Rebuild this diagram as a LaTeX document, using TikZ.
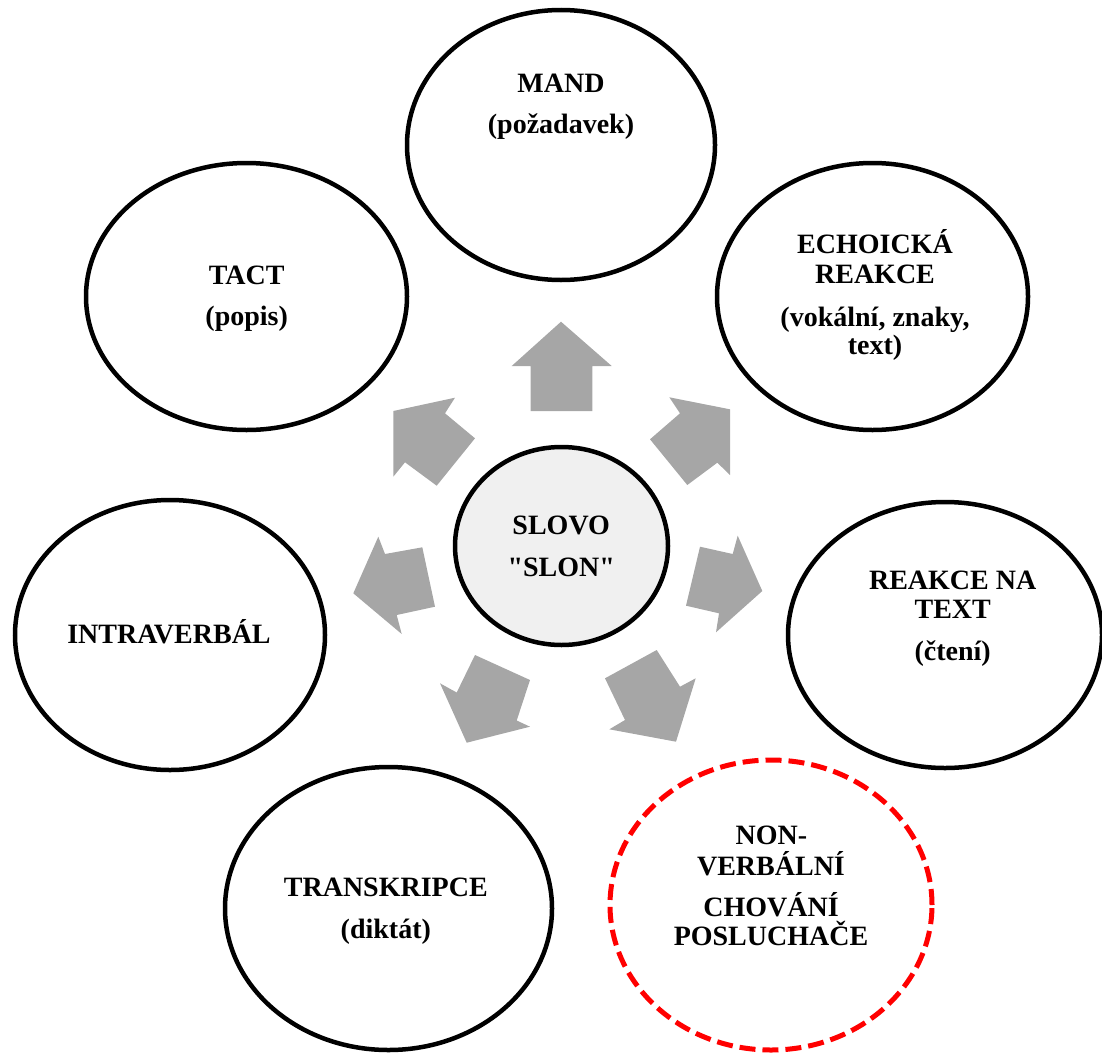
\documentclass[tikz,border=0pt]{standalone}
\usepackage{fontspec}
\setmainfont{Liberation Serif}[Ligatures=TeXOff]
\usetikzlibrary{shapes.geometric}
\definecolor{arrowgray}{HTML}{A6A6A6}
\definecolor{centerfill}{HTML}{F0F0F0}
\definecolor{dashred}{HTML}{FF0000}
\tikzset{
  bubble/.style={ellipse, draw=black, line width=4.5pt, inner sep=0pt, fill=white},
  dashbubble/.style={ellipse, draw=dashred, line width=5pt, dash pattern=on 16pt off 7pt, inner sep=0pt},
  centerbubble/.style={ellipse, draw=black, line width=4.5pt, inner sep=0pt, fill=centerfill},
  lbl/.style={anchor=base, inner sep=0pt, font=\fontsize{28}{30}\selectfont\bfseries},
  blockarrow/.style={fill=arrowgray, draw=none}
}
\begin{document}
\begin{tikzpicture}[x=1pt,y=-1pt]
\useasboundingbox (0,0) rectangle (1102,1052);

% outer bubbles
\node[bubble, minimum width=308pt, minimum height=270pt] (mand) at (561,145) {};
\node[bubble, minimum width=311pt, minimum height=267pt] (echo) at (872.5,296.5) {};
\node[bubble, minimum width=321pt, minimum height=267pt] (tact) at (246.5,296.5) {};
\node[bubble, minimum width=310pt, minimum height=270pt] (intra) at (170,635) {};
\node[bubble, minimum width=314pt, minimum height=266pt] (reakce) at (945,635) {};
\node[bubble, minimum width=327pt, minimum height=283pt] (trans) at (388.5,908.5) {};
\node[dashbubble, minimum width=322pt, minimum height=290pt] (nonv) at (771,905) {};

% center
\node[centerbubble, minimum width=213pt, minimum height=198pt] (slovo) at (561.5,546) {};

% labels
\node[lbl] (mandA) at (561,92.7) {MAND};
\node[lbl] (mandB) at (561,133) {(požadavek)};

\node[lbl] (echoA) at (875,253.3) {ECHOICKÁ};
\node[lbl] (echoB) at (875,283.3) {REAKCE};
\node[lbl] (echoC) at (875,326.7) {(vokální, znaky,};
\node[lbl] (echoD) at (875,354) {text)};

\node[lbl] (tactA) at (246.7,284.3) {TACT};
\node[lbl] (tactB) at (246.7,325) {(popis)};

\node[lbl] (intraA) at (169,643.3) {INTRAVERBÁL};

\node[lbl] (reakceA) at (952.7,589.3) {REAKCE NA};
\node[lbl] (reakceB) at (952.7,618.3) {TEXT};
\node[lbl] (reakceC) at (952.7,660) {(čtení)};

\node[lbl] (transA) at (385.8,896.7) {TRANSKRIPCE};
\node[lbl] (transB) at (385.8,938.3) {(diktát)};

\node[lbl] (nonvA) at (771.5,844.3) {NON-};
\node[lbl] (nonvB) at (771,875) {VERBÁLNÍ};
\node[lbl] (nonvC) at (771,916.7) {CHOVÁNÍ};
\node[lbl] (nonvD) at (771,945) {POSLUCHAČE};

\node[lbl] (slovoA) at (561.2,534) {SLOVO};
\node[lbl] (slovoB) at (561.2,576) {"SLON"};

% block arrows
% up
\fill[blockarrow] (530.7,411) -- (530.7,366) -- (511.7,366) -- (561,321.7) -- (611.7,366) -- (592.3,366) -- (592.3,411) -- cycle;
% upper left
\fill[blockarrow] (475,438.3) -- (445,413.3) -- (455,397.7) -- (393.3,411) -- (393.3,476.7) -- (405,462.3) -- (436.7,485.7) -- cycle;
% upper right
\fill[blockarrow] (650,439.3) -- (680,413.3) -- (669.3,397.3) -- (730,409.3) -- (730,475) -- (717.3,462.7) -- (687.3,485) -- cycle;
% right
\fill[blockarrow] (700,546.7) -- (732.7,554) -- (737.7,535.7) -- (762.3,591) -- (716,632.3) -- (719,613.3) -- (686,605.7) -- cycle;
% left
\fill[blockarrow] (422.3,547.3) -- (385,554) -- (378.3,536.7) -- (353.3,593.3) -- (401.7,634) -- (396.7,615) -- (435,606.7) -- cycle;
% lower right
\fill[blockarrow] (605,678.3) -- (656.7,650) -- (680,686.7) -- (695.7,678.3) -- (676,741.7) -- (609.3,729.3) -- (625,720) -- cycle;
% lower left
\fill[blockarrow] (475,655) -- (530,680) -- (516.7,720.5) -- (530,726.7) -- (466.7,742.7) -- (440,683.3) -- (456.7,692.5) -- cycle;
\end{tikzpicture}
\end{document}
